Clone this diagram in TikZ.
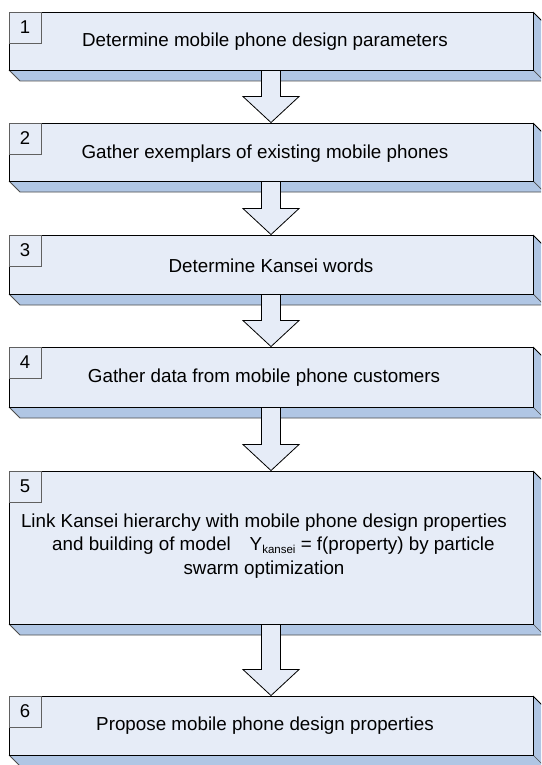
\documentclass[tikz,border=0pt]{standalone}
\usepackage{fontspec}
\setmainfont{Liberation Sans}
\usetikzlibrary{calc}
\definecolor{faceblue}{HTML}{E6ECF7}
\definecolor{sideblue}{HTML}{B0C6E4}
\definecolor{edgegray}{HTML}{4D4D4D}
\definecolor{numgray}{HTML}{606060}

% one extruded process block: name, top, bottom, number
\newcommand\stepblock[4]{%
  \fill[sideblue] (9,#3) -- (533,#3) -- (533,#2) -- (544,#2+11)
        -- (544,#3+11) -- (20,#3+11) -- cycle;
  \draw[edgegray, line width=0.9pt] (9,#3) -- (20,#3+11) -- (544,#3+11);
  \draw[line width=0.9pt] (533,#2) -- (544,#2+11);
  \draw[edgegray, line width=0.7pt] (533,#3) -- (544,#3+11);
  \node[face, minimum height={#3-#2}] (#1) at (271,{(#2+#3)/2}) {};
  \node[numbox] (#1n) at (25,{#2+15.5}) {#4};
}

% block arrow from the bottom of one block to the top of the next
\newcommand\blockarrow[2]{%
  \filldraw[arrowbody] let \p1=(#1.south), \p2=(#2.north) in
    (\x1-9.5pt,\y1) -- (\x1-9.5pt,\y2+26pt) -- (\x1-28pt,\y2+26pt)
    -- (\x2,\y2) -- (\x1+28pt,\y2+26pt) -- (\x1+9.5pt,\y2+26pt)
    -- (\x1+9.5pt,\y1) -- cycle;
}

\begin{document}
\begin{tikzpicture}[x=1pt, y=-1pt,
  face/.style={draw, fill=faceblue, line width=0.9pt, minimum width=524pt,
    inner sep=0pt},
  numbox/.style={draw=numgray, fill=faceblue, line width=0.7pt,
    minimum width=32pt, minimum height=31pt, inner sep=0pt,
    font=\fontsize{18.5}{18.5}\selectfont},
  steptext/.style={font=\fontsize{18.8}{23.5}\selectfont, align=center,
    inner sep=0pt},
  arrowbody/.style={fill=faceblue, draw, line width=0.8pt}]
\useasboundingbox (0,0) rectangle (541,765);
\clip (0,0) rectangle (541,765);
\fill[white] (0,0) rectangle (541,765);

\stepblock{s1}{12}{70}{1}
\stepblock{s2}{123}{181}{2}
\stepblock{s3}{235}{294}{3}
\stepblock{s4}{347}{407}{4}
\stepblock{s5}{471}{624}{5}
\stepblock{s6}{696}{755}{6}

\node[steptext] (t1) at (265,42) {Determine mobile phone design parameters};
\node[steptext] (t2) at (265,154) {Gather exemplars of existing mobile phones};
\node[steptext] (t3) at (271,266) {Determine Kansei words};
\node[steptext] (t4) at (264,378) {Gather data from mobile phone customers};
\node[steptext] (t5) at (264,546) {Link Kansei hierarchy with mobile phone design properties\\
  \hspace*{1em}and building of model\quad Y\raisebox{-0.25ex}{\fontsize{11.5}{11.5}\selectfont kansei} = f(property) by particle\\
  swarm optimization};
\node[steptext] (t6) at (265,726) {Propose mobile phone design properties};

\blockarrow{s1}{s2}
\blockarrow{s2}{s3}
\blockarrow{s3}{s4}
\blockarrow{s4}{s5}
\blockarrow{s5}{s6}
\end{tikzpicture}
\end{document}
